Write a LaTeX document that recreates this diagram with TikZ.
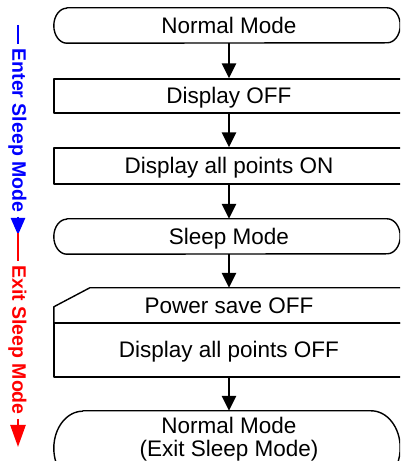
\documentclass[tikz,border=0pt]{standalone}
\usepackage{fontspec}
\setmainfont{Liberation Sans}
\usetikzlibrary{arrows.meta}
\newcommand\drawterm[3]{%
  \draw[boxline] ([xshift=#2]#1.north west) -- ([xshift=-4pt-#2]#1.north east)
    arc[start angle=90,end angle=-90,x radius=#2,y radius=#3]
    -- ([xshift=#2]#1.south west)
    arc[start angle=270,end angle=90,x radius=#2,y radius=#3] -- cycle;}
\begin{document}
\begin{tikzpicture}[x=1pt,y=1pt,
  boxline/.style={line width=1.4pt, line join=round},
  boxtext/.style={rectangle, minimum width=350pt, inner sep=0pt, text height=16pt, text depth=0pt,
    font=\fontsize{22.5}{23}\selectfont},
  box/.style={boxtext, boxline, draw},
  flow/.style={line width=2.5pt, -{Triangle[length=15pt,width=14pt]}},
  side/.style={rotate=-90, inner xsep=4pt, inner ysep=0pt, text height=14pt, text depth=0pt,
    font=\fontsize{19.5}{20}\selectfont\bfseries},
  sidearrow/.style={line width=2.5pt},
]
\useasboundingbox (0,0) rectangle (400,461);
\clip (0,0) rectangle (400,461);

% main flow
\node[boxtext, minimum height=35pt] (t1) at (229,435.5) {Normal Mode};
\drawterm{t1}{13pt}{17.5pt}
\node[box, minimum height=34pt] (r2) at (229,365) {Display OFF};
\node[box, minimum height=36pt] (r3) at (229,295) {Display all points ON};
\node[boxtext, minimum height=35pt] (t4) at (229,224.5) {Sleep Mode};
\drawterm{t4}{13pt}{17.5pt}
\node[boxtext, minimum height=35pt] (ps) at (229,155.5) {Power save OFF};
\draw[boxline] ([yshift=-19pt]ps.north west) -- ([xshift=36pt]ps.north west)
  -- (ps.north east) -- (ps.south east) -- (ps.south west) -- cycle;
\node[box, minimum height=54pt] (dap) at (229,111) {Display all points OFF};
\node[boxtext, minimum height=74pt] (t6) at (229,13) {};
\drawterm{t6}{29pt}{37pt}
\node[inner sep=0pt, align=center, font=\fontsize{22.5}{23}\selectfont] (t6txt) at (229,22.3)
  {Normal Mode\\(Exit Sleep Mode)};

\draw[flow] (t1.south) -- (r2.north);
\draw[flow] (r2.south) -- (r3.north);
\draw[flow] (r3.south) -- (t4.north);
\draw[flow] (t4.south) -- (ps.north);
\draw[flow] (dap.south) -- (t6.north);

% side labels
\coordinate (b0) at (18,436);
\coordinate (b1) at (18,226);
\node[side, text=blue] (enter) at (19.5,330.5) {Enter Sleep Mode};
\draw[sidearrow, blue] (b0) -- (b0 |- enter.west);
\draw[sidearrow, blue, -{Triangle[length=17pt,width=14pt]}] (b0 |- enter.east) -- (b1);

\coordinate (e0) at (18,228);
\coordinate (e1) at (18,14);
\node[side, text=red] (exit) at (19.5,121) {Exit Sleep Mode};
\draw[sidearrow, red] (e0) -- (e0 |- exit.west);
\draw[sidearrow, red, -{Triangle[length=22pt,width=15pt]}] (e0 |- exit.east) -- (e1);
\end{tikzpicture}
\end{document}
